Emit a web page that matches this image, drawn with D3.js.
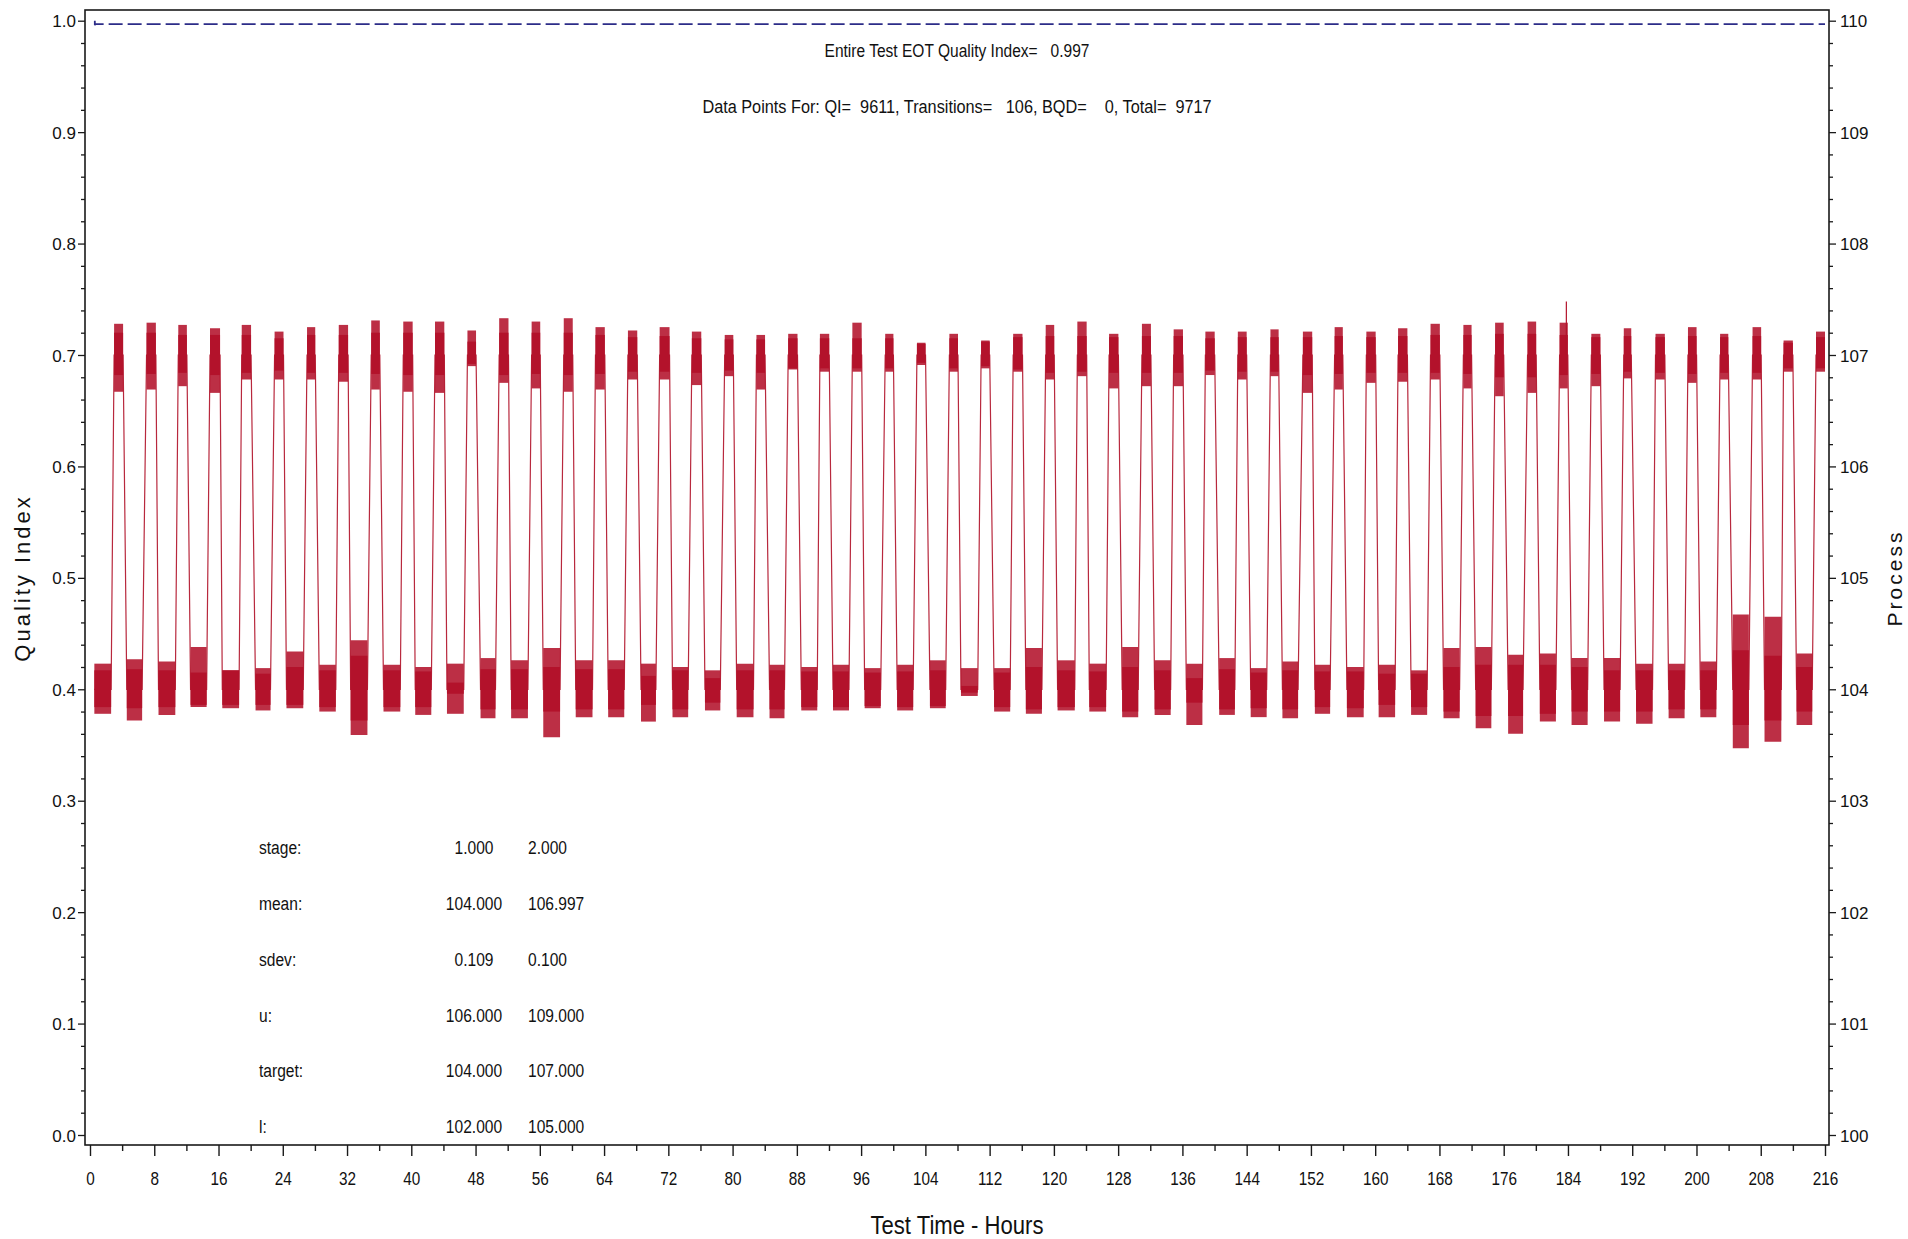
<!DOCTYPE html>
<html>
<head>
<meta charset="utf-8">
<script src="https://cdn.jsdelivr.net/npm/d3@7"></script>
<style>
html,body{margin:0;padding:0;background:#fff;}
svg{display:block;}
text{font-family:"Liberation Sans", Arial, Helvetica, sans-serif;fill:#111;}
</style>
</head>
<body>
<svg id="chart" width="1908" height="1239"></svg>
<script>
// ---------------- DATA ----------------
// Axis tick labels
const hourTicks = [0,8,16,24,32,40,48,56,64,72,80,88,96,104,112,120,128,136,144,152,160,168,176,184,192,200,208,216];
const qiTicks = [0.0,0.1,0.2,0.3,0.4,0.5,0.6,0.7,0.8,0.9,1.0];
const processTicks = [100,101,102,103,104,105,106,107,108,109,110];

// Header numbers
const qiOverall = 0.997;
const qiPoints = 9611, transitionPoints = 106, bqdPoints = 0, totalPoints = 9717;

// Stage statistics table
const statLabels = ["stage:", "mean:", "sdev:", "u:", "target:", "l:"];
const stage1Stats = [1.000, 104.000, 0.109, 106.000, 104.000, 102.000];
const stage2Stats = [2.000, 106.997, 0.100, 109.000, 107.000, 105.000];

// Cumulative quality index line (blue dashed)
const qiTime  = [0.60, 0.60, 0.66, 216.0];
const qiValue = [1.000, 0.996, 0.997, 0.997];

// Process trace: stage-1 (low) plateaus, hours
const lowStart = [0.54,4.58,8.53,12.52,16.47,20.61,24.46,28.55,32.45,36.54,40.49,44.44,48.62,52.43,56.43,60.47,64.51,68.6,
  72.52,76.56,80.51,84.6,88.55,92.5,96.44,100.49,104.57,108.43,112.56,116.51,120.46,124.41,128.5,132.54,136.49,140.58,
  144.5,148.45,152.49,156.48,160.43,164.47,168.51,172.51,176.55,180.5,184.45,188.49,192.48,196.53,200.48,204.52,208.47,212.46];
const lowEnd = [2.63,6.49,10.62,14.52,18.56,22.47,26.55,30.6,34.54,38.63,42.49,46.53,50.48,54.52,58.52,62.56,66.51,70.45,
  74.47,78.47,82.6,86.46,90.54,94.49,98.44,102.48,106.53,110.52,114.56,118.51,122.6,126.5,130.5,134.54,138.49,142.53,
  146.49,150.4,154.39,158.57,162.48,166.47,170.51,174.46,178.41,182.5,186.45,190.49,194.53,198.52,202.47,206.52,210.56,214.41];
// dense band (upper/lower) and spike extremes of each low plateau
const lowCoreHi = [104.17,104.18,104.17,104.15,104.17,104.14,104.2,104.17,104.3,104.17,104.16,104.06,104.18,104.18,104.2,104.18,104.18,104.12,
  104.17,104.1,104.17,104.17,104.16,104.16,104.15,104.16,104.17,104.03,104.15,104.2,104.17,104.16,104.2,104.17,104.1,104.18,
  104.15,104.17,104.16,104.16,104.14,104.14,104.2,104.22,104.22,104.22,104.2,104.17,104.17,104.17,104.17,104.35,104.3,104.2];
const lowCoreLo = [103.84,103.83,103.84,103.86,103.86,103.86,103.86,103.84,103.72,103.84,103.84,103.96,103.82,103.82,103.8,103.82,103.82,103.86,
  103.82,103.88,103.82,103.82,103.84,103.84,103.85,103.84,103.85,103.97,103.84,103.82,103.84,103.84,103.8,103.82,103.88,103.82,
  103.83,103.82,103.84,103.83,103.86,103.84,103.8,103.76,103.76,103.78,103.8,103.8,103.8,103.82,103.82,103.68,103.72,103.8];
const lowMax = [104.23,104.27,104.25,104.38,104.17,104.19,104.34,104.22,104.44,104.22,104.2,104.23,104.28,104.26,104.37,104.26,104.26,104.23,
  104.2,104.17,104.23,104.22,104.2,104.22,104.19,104.22,104.26,104.19,104.19,104.37,104.26,104.23,104.38,104.26,104.23,104.28,
  104.19,104.25,104.22,104.2,104.22,104.17,104.37,104.38,104.31,104.32,104.28,104.28,104.23,104.23,104.25,104.67,104.65,104.32];
const lowMin = [103.78,103.72,103.77,103.84,103.83,103.81,103.83,103.8,103.59,103.8,103.77,103.78,103.74,103.74,103.57,103.75,103.75,103.71,
  103.75,103.81,103.75,103.74,103.81,103.81,103.83,103.81,103.83,103.94,103.8,103.78,103.81,103.8,103.75,103.77,103.68,103.77,
  103.75,103.74,103.78,103.75,103.75,103.77,103.74,103.65,103.6,103.71,103.68,103.71,103.69,103.74,103.75,103.47,103.53,103.68];

// Process trace: stage-2 (high) plateaus, hours
const highStart = [3.0,7.04,10.99,14.94,18.89,22.98,27.02,30.97,35.01,39.0,42.95,46.99,50.94,54.98,58.98,62.93,66.97,70.92,
  74.93,79.02,82.97,86.92,90.87,94.91,99.0,102.95,106.99,110.94,114.93,118.98,122.92,126.87,130.96,134.91,138.86,142.9,
  146.96,151.0,154.95,158.9,162.85,166.89,170.98,174.93,178.97,182.96,186.91,190.95,194.9,198.94,202.94,206.98,210.84,214.88];
const highEnd = [4.12,8.2,12.06,16.19,20.05,24.09,28.04,32.13,36.08,40.17,44.11,48.06,52.1,56.05,60.1,64.09,68.13,72.15,
  76.1,80.09,84.04,88.08,92.03,96.07,100.02,104.02,108.06,112.01,116.09,120.04,124.08,128.03,132.08,136.07,140.02,144.0,
  147.98,152.16,155.97,160.06,164.01,168.05,172.0,176.0,180.04,183.98,188.03,191.88,196.06,200.01,203.96,208.05,212.0,216.0];
const highCoreHi = [107.2,107.2,107.18,107.18,107.18,107.15,107.18,107.18,107.2,107.2,107.2,107.12,107.2,107.2,107.2,107.18,107.16,107.17,
  107.15,107.14,107.14,107.15,107.15,107.15,107.15,107.1,107.15,107.12,107.16,107.17,107.17,107.16,107.17,107.17,107.15,107.16,
  107.16,107.16,107.17,107.16,107.17,107.18,107.18,107.19,107.19,107.18,107.16,107.17,107.16,107.17,107.16,107.17,107.11,107.16];
const highCoreLo = [106.82,106.83,106.84,106.82,106.84,106.86,106.84,106.84,106.83,106.82,106.82,106.92,106.82,106.83,106.82,106.83,106.85,106.85,
  106.84,106.86,106.84,106.88,106.88,106.88,106.88,106.93,106.88,106.9,106.87,106.84,106.85,106.84,106.84,106.84,106.86,106.85,
  106.85,106.82,106.83,106.84,106.84,106.84,106.83,106.8,106.8,106.82,106.83,106.85,106.84,106.83,106.84,106.84,106.88,106.88];
const highMax = [107.28,107.29,107.27,107.24,107.27,107.21,107.25,107.27,107.31,107.3,107.3,107.22,107.33,107.3,107.33,107.25,107.22,107.25,
  107.21,107.18,107.18,107.19,107.19,107.29,107.19,107.11,107.19,107.13,107.19,107.27,107.3,107.19,107.28,107.23,107.21,107.21,
  107.23,107.21,107.25,107.21,107.24,107.28,107.27,107.29,107.3,107.29,107.19,107.24,107.19,107.25,107.19,107.25,107.13,107.21];
const highMin = [106.67,106.69,106.72,106.66,106.78,106.78,106.78,106.76,106.69,106.67,106.66,106.9,106.75,106.7,106.67,106.69,106.78,106.78,
  106.73,106.81,106.69,106.87,106.85,106.85,106.85,106.91,106.85,106.88,106.85,106.78,106.81,106.7,106.72,106.72,106.82,106.78,
  106.81,106.66,106.69,106.75,106.76,106.78,106.7,106.63,106.66,106.7,106.72,106.79,106.78,106.75,106.78,106.78,106.85,106.85];

// isolated single-sample spikes
const spikeTime  = [183.8];
const spikeValue = [107.48];

// ---------------- DRAWING ----------------
const W = 1908, H = 1239;
const frame = {left: 85, right: 1829, top: 10, bottom: 1145};
const red = "#b3122b";
const blue = "#2c2c88";

const x  = d3.scaleLinear().domain([0, 216]).range([90, 1825]);
const yQ = d3.scaleLinear().domain([0, 1]).range([1135, 20.7]);
const yP = d3.scaleLinear().domain([100, 110]).range([1135, 20.7]);

const svg = d3.select("#chart");
svg.append("rect").attr("width", W).attr("height", H).attr("fill", "#fff");

svg.append("defs").append("clipPath").attr("id", "plotClip")
  .append("rect").attr("x", frame.left).attr("y", frame.top)
  .attr("width", frame.right - frame.left).attr("height", frame.bottom - frame.top);

const plot = svg.append("g").attr("clip-path", "url(#plotClip)");

// ---- process trace
const target1 = stage1Stats[4], target2 = stage2Stats[4];
const blocks = [];
lowStart.forEach((s, i) => {
  blocks.push({t0: s, t1: lowEnd[i], hi: lowCoreHi[i], lo: lowCoreLo[i], mx: lowMax[i], mn: lowMin[i]});
  blocks.push({t0: highStart[i], t1: highEnd[i], hi: highCoreHi[i], lo: highCoreLo[i], mx: highMax[i], mn: highMin[i]});
});

const band = d3.area().x(d => x(d.t)).y0(d => yP(d.lo)).y1(d => yP(d.hi));

const tracePts = [];
lowStart.forEach((s, i) => {
  tracePts.push([s, target1], [lowEnd[i], target1], [highStart[i], target2], [highEnd[i], target2]);
});
plot.append("path")
  .attr("d", d3.line().x(d => x(d[0])).y(d => yP(d[1]))(tracePts))
  .attr("fill", "none").attr("stroke", "#b8283d").attr("stroke-width", 1.2);

plot.selectAll("path.outer").data(blocks).join("path").attr("class", "outer")
  .attr("d", b => band([{t: b.t0, lo: b.mn, hi: b.mx}, {t: b.t1, lo: b.mn, hi: b.mx}]))
  .attr("fill", red).attr("fill-opacity", 0.88);
plot.selectAll("path.core").data(blocks).join("path").attr("class", "core")
  .attr("d", b => band([{t: b.t0, lo: b.lo, hi: b.hi}, {t: b.t1, lo: b.lo, hi: b.hi}]))
  .attr("fill", red);

plot.selectAll("line.spike").data(spikeTime).join("line").attr("class", "spike")
  .attr("x1", d => x(d)).attr("x2", d => x(d))
  .attr("y1", yP(target2)).attr("y2", (d, i) => yP(spikeValue[i]))
  .attr("stroke", red).attr("stroke-width", 1.2);

// ---- QI dashed line
const qiPts = qiTime.map((t, i) => [t, qiValue[i]]);
plot.append("path")
  .attr("d", d3.line().x(d => x(d[0])).y(d => yQ(d[1]))(qiPts))
  .attr("fill", "none").attr("stroke", blue).attr("stroke-width", 1.8)
  .attr("stroke-dasharray", "14,5");

// ---- frame
svg.append("rect").attr("x", frame.left).attr("y", frame.top)
  .attr("width", frame.right - frame.left).attr("height", frame.bottom - frame.top)
  .attr("fill", "none").attr("stroke", "#1a1a1a").attr("stroke-width", 1.6);

// ---- bottom axis
const hourAll = d3.range(0, 217, 4);
const xAxis = d3.axisBottom(x).tickValues(hourAll).tickSize(0)
  .tickFormat(d => hourTicks.includes(d) ? String(d) : "");
const gx = svg.append("g").attr("transform", `translate(0,${frame.bottom})`).call(xAxis);
gx.select(".domain").remove();
gx.selectAll(".tick line").attr("y2", d => hourTicks.includes(d) ? 11 : 6)
  .attr("stroke", "#1a1a1a").attr("stroke-width", 1.4);
gx.selectAll(".tick text").attr("y", 0).attr("dy", null)
  .attr("transform", "translate(0,40) scale(0.85,1)")
  .attr("font-size", 18).attr("font-family", "Liberation Sans, Arial, sans-serif").attr("fill", "#111");

// ---- left axis (Quality Index)
const qAll = d3.range(0, 51).map(i => i / 50);
const isQMajor = d => qiTicks.some(t => Math.abs(t - d) < 1e-9);
const yAxisL = d3.axisLeft(yQ).tickValues(qAll).tickSize(0)
  .tickFormat(d => isQMajor(d) ? d3.format(".1f")(d) : "");
const gl = svg.append("g").attr("transform", `translate(${frame.left},0)`).call(yAxisL);
gl.select(".domain").remove();
gl.selectAll(".tick line").attr("x2", d => isQMajor(d) ? -7 : -4)
  .attr("stroke", "#1a1a1a").attr("stroke-width", 1.3);
gl.selectAll(".tick text").attr("x", -9).attr("dy", "0.36em")
  .attr("font-size", 17).attr("font-family", "Liberation Sans, Arial, sans-serif").attr("fill", "#111");

// ---- right axis (Process)
const pAll = d3.range(0, 51).map(i => 100 + i / 5);
const isPMajor = d => processTicks.some(t => Math.abs(t - d) < 1e-9);
const yAxisR = d3.axisRight(yP).tickValues(pAll).tickSize(0)
  .tickFormat(d => isPMajor(d) ? d3.format("d")(d) : "");
const gr = svg.append("g").attr("transform", `translate(${frame.right},0)`).call(yAxisR);
gr.select(".domain").remove();
gr.selectAll(".tick line").attr("x2", d => isPMajor(d) ? 7 : 4)
  .attr("stroke", "#1a1a1a").attr("stroke-width", 1.3);
gr.selectAll(".tick text").attr("x", 11).attr("dy", "0.36em")
  .attr("font-size", 17).attr("font-family", "Liberation Sans, Arial, sans-serif").attr("fill", "#111");

// ---- axis titles
svg.append("text").attr("transform", `translate(30,578) rotate(-90)`)
  .attr("text-anchor", "middle").attr("font-size", 22).attr("letter-spacing", 3)
  .attr("fill", "#333").text("Quality Index");
svg.append("text").attr("transform", `translate(1902,578) rotate(-90)`)
  .attr("text-anchor", "middle").attr("font-size", 21).attr("letter-spacing", 3)
  .attr("fill", "#333").text("Process");
svg.append("text").attr("transform", `translate(957,1234) scale(0.85,1)`)
  .attr("text-anchor", "middle").attr("font-size", 26).attr("fill", "#222")
  .text("Test Time - Hours");

// ---- header lines
function sasText(str, px, py, size, anchor, sx) {
  return svg.append("text").attr("transform", `translate(${px},${py}) scale(${sx},1)`)
    .attr("text-anchor", anchor).attr("font-size", size)
    .style("white-space", "pre").attr("fill", "#111").text(str);
}
sasText(`Entire Test EOT Quality Index=   ${qiOverall.toFixed(3)}`, 957, 57, 18.5, "middle", 0.84);
sasText(`Data Points For: QI=  ${qiPoints}, Transitions=   ${transitionPoints}, BQD=    ${bqdPoints}, Total=  ${totalPoints}`, 957, 113, 18.5, "middle", 0.88);

// ---- statistics table
const f3 = d3.format(".3f");
statLabels.forEach((lab, i) => {
  const by = yQ(0.25 - 0.05 * i) - 2;
  sasText(lab, 259, by, 19, "start", 0.82);
  sasText(f3(stage1Stats[i]), 474, by, 19, "middle", 0.82);
  sasText(f3(stage2Stats[i]), 528, by, 19, "start", 0.82);
});
</script>
</body>
</html>
